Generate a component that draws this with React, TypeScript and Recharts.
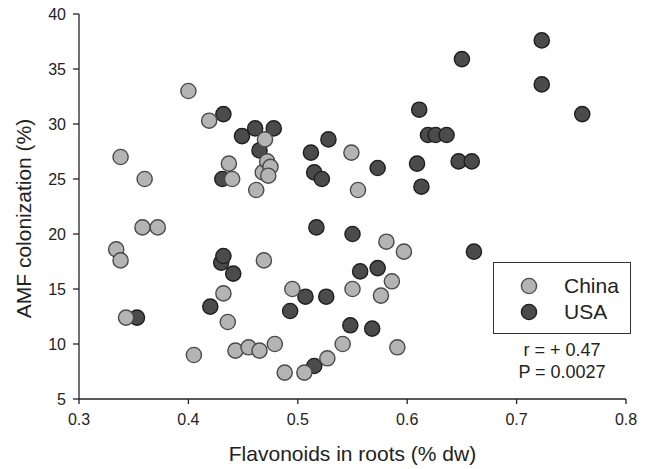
import React from 'react'
import { Label, Legend, Scatter, ScatterChart, XAxis, YAxis } from 'recharts'

const chinaFlavonoids = [
  0.334, 0.338, 0.338, 0.343, 0.358, 0.36, 0.372, 0.4, 0.405, 0.419, 0.432, 0.436, 0.437,
  0.44, 0.443, 0.455, 0.462, 0.465, 0.468, 0.469, 0.47, 0.472, 0.475, 0.473, 0.479, 0.488,
  0.495, 0.506, 0.527, 0.541, 0.549, 0.55, 0.555, 0.576, 0.581, 0.586, 0.591, 0.597,
]
const chinaAmf = [
  18.6, 17.6, 27.0, 12.4, 20.6, 25.0, 20.6, 33.0, 9.0, 30.3, 14.6, 12.0, 26.4,
  25.0, 9.4, 9.7, 24.0, 9.4, 25.6, 17.6, 28.6, 26.6, 26.1, 25.3, 10.0, 7.4,
  15.0, 7.4, 8.7, 10.0, 27.4, 15.0, 24.0, 14.4, 19.3, 15.7, 9.7, 18.4,
]
const usaFlavonoids = [
  0.353, 0.42, 0.43, 0.432, 0.431, 0.432, 0.441, 0.449, 0.461, 0.465, 0.478, 0.493, 0.507,
  0.512, 0.515, 0.515, 0.517, 0.522, 0.526, 0.528, 0.548, 0.55, 0.557, 0.568, 0.573, 0.573,
  0.609, 0.611, 0.613, 0.619, 0.626, 0.636, 0.647, 0.65, 0.659, 0.661, 0.723, 0.723, 0.76,
]
const usaAmf = [
  12.4, 13.4, 17.4, 18.0, 25.0, 30.9, 16.4, 28.9, 29.6, 27.6, 29.6, 13.0, 14.3,
  27.4, 25.6, 8.0, 20.6, 25.0, 14.3, 28.6, 11.7, 20.0, 16.6, 11.4, 26.0, 16.9,
  26.4, 31.3, 24.3, 29.0, 29.0, 29.0, 26.6, 35.9, 26.6, 18.4, 37.6, 33.6, 30.9,
]
const xTicks = [0.3, 0.4, 0.5, 0.6, 0.7, 0.8]
const yTicks = [5, 10, 15, 20, 25, 30, 35, 40]
const seriesNames = ['China', 'USA']
const statLines = ['r = + 0.47', 'P = 0.0027']

const font = '"Liberation Sans", Arial, sans-serif'
const colors = [
  { fill: '#b4b4b4', stroke: '#4a4a4a' },
  { fill: '#4b4b4b', stroke: '#1e1e1e' },
]

const chinaData = chinaFlavonoids.map((x, i) => ({ x, y: chinaAmf[i] }))
const usaData = usaFlavonoids.map((x, i) => ({ x, y: usaAmf[i] }))

const dot = (idx: number) => (props: any) => (
  <circle cx={props.cx} cy={props.cy} r={7.6} fill={colors[idx].fill} stroke={colors[idx].stroke} strokeWidth={1.4} />
)

function LegendBox() {
  return (
    <div style={{ fontFamily: font, color: '#222' }}>
      <div
        style={{
          width: 138,
          height: 72,
          border: '1.5px solid #333',
          boxSizing: 'border-box',
          paddingTop: 10,
          background: '#fff',
        }}
      >
        {seriesNames.map((name, i) => (
          <div key={name} style={{ display: 'flex', alignItems: 'center', height: 26 }}>
            <svg width={70} height={26}>
              <circle cx={35} cy={13} r={7.6} fill={colors[i].fill} stroke={colors[i].stroke} strokeWidth={1.4} />
            </svg>
            <span style={{ fontSize: 21, lineHeight: '26px' }}>{name}</span>
          </div>
        ))}
      </div>
      <div style={{ width: 138, textAlign: 'center', fontSize: 18, lineHeight: '22px', marginTop: 5 }}>
        {statLines.map((s) => (
          <div key={s}>{s}</div>
        ))}
      </div>
    </div>
  )
}

export default function App() {
  return (
    <div style={{ position: 'absolute', left: 0, top: 0, background: '#fff' }}>
      <ScatterChart width={647} height={469} margin={{ top: 14, right: 21, left: 0, bottom: 0 }}>
        <XAxis
          type='number'
          dataKey='x'
          domain={[0.3, 0.8]}
          ticks={xTicks}
          tickFormatter={(v: number) => v.toFixed(1)}
          height={70}
          tickSize={5}
          tickMargin={10}
          stroke='#222'
          strokeWidth={1.3}
          tick={{ fill: '#222', fontSize: 16, fontFamily: font }}
        >
          <Label
            content={(props: any) => {
              const vb = props.viewBox
              return (
                <text x={vb.x + vb.width / 2} y={461} textAnchor='middle' fontSize={21} fontFamily={font} fill='#222'>
                  Flavonoids in roots (% dw)
                </text>
              )
            }}
          />
        </XAxis>
        <YAxis
          type='number'
          dataKey='y'
          domain={[5, 40]}
          ticks={yTicks}
          width={79}
          tickSize={6}
          tickMargin={7}
          stroke='#222'
          strokeWidth={1.3}
          tick={{ fill: '#222', fontSize: 16, fontFamily: font }}
        >
          <Label
            content={(props: any) => {
              const vb = props.viewBox
              const cy = vb.y + vb.height / 2 + 12
              return (
                <text
                  x={31}
                  y={cy}
                  transform={`rotate(-90 31 ${cy})`}
                  textAnchor='middle'
                  fontSize={21}
                  fontFamily={font}
                  fill='#222'
                >
                  AMF colonization (%)
                </text>
              )
            }}
          />
        </YAxis>
        <Legend
          layout='vertical'
          align='center'
          verticalAlign='middle'
          content={() => <LegendBox />}
          wrapperStyle={{ position: 'absolute', left: 493, top: 262, width: 'auto', height: 'auto' }}
        />
        <Scatter name='USA' data={usaData} shape={dot(1)} isAnimationActive={false} />
        <Scatter name='China' data={chinaData} shape={dot(0)} isAnimationActive={false} />
      </ScatterChart>
    </div>
  )
}
